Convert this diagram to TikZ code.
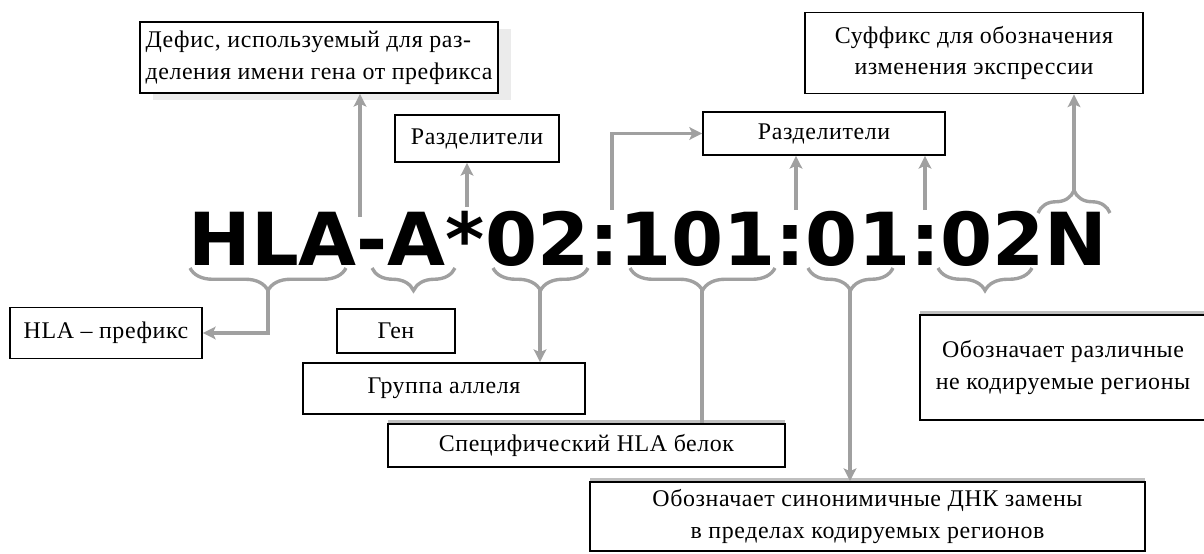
\documentclass[tikz,border=0pt]{standalone}
\usepackage{fontspec}
\setmainfont{Liberation Serif}[LetterSpace=2.5]
\newfontfamily\codefont{DejaVu Sans}
\usetikzlibrary{decorations.pathreplacing,arrows.meta,shadows}
\definecolor{linegray}{RGB}{160,160,160}
\tikzset{
  box/.style={draw, fill=white, line width=1.3pt, inner sep=1pt, align=center,
    font=\fontsize{17}{22.5}\selectfont},
  topshade/.style={general shadow={fill=black!25, shadow yshift=3pt}},
  sideshade/.style={general shadow={fill=black!8, shadow xshift=9pt, shadow yshift=-5pt}},
  arr/.style={-{Stealth[length=9pt,width=9pt,inset=2pt]}, draw=linegray, line width=2.4pt},
  lnk/.style={draw=linegray, line width=2.4pt},
  brc/.style={draw=linegray, line width=2.4pt, decorate,
    decoration={brace, amplitude=16pt}}
}

\begin{document}
\begin{tikzpicture}[x=0.025cm, y=-0.025cm]
      \useasboundingbox (0,0) rectangle (1204,553);
      % allele name
      \node [anchor=base west, inner sep=0] (code) at (188,265)
        {\scalebox{1.025}[1]{\codefont\bfseries\fontsize{52}{52}\selectfont HLA-A*02:101:01:02N}};
      % boxes
      \node [box, sideshade, align=left, minimum width=8.95cm, minimum height=1.775cm] (defis) at (319,57.5)
        {Дефис, используемый для раз-\\деления имени гена от префикса};
      \node [box, minimum width=4.1cm, minimum height=1.175cm] (sepl) at (477,138.5) {Разделители};
      \node [box, minimum width=6.05cm, minimum height=1.075cm] (sepr) at (824,133.5) {Разделители};
      \node [box, minimum width=8.45cm, minimum height=2.025cm] (suffix) at (974,53)
        {Суффикс для обозначения\\изменения экспрессии};
      \node [box, minimum width=4.8cm, minimum height=1.275cm] (prefix) at (106,333) {HLA – префикс};
      \node [box, minimum width=2.95cm, minimum height=1.1cm] (gene) at (396,331) {Ген};
      \node [box, minimum width=7.05cm, minimum height=1.275cm] (group) at (444,388.5) {Группа аллеля};
      \node [box, topshade, minimum width=9.925cm, minimum height=1.075cm] (protein) at (586.5,445.5)
        {Специфический HLA белок};
      \node [box, topshade, minimum width=13.875cm, minimum height=1.725cm] (syn) at (867.5,516.5)
        {Обозначает синонимичные ДНК замены\\в пределах кодируемых регионов};
      \node [box, topshade, minimum width=7.15cm, minimum height=2.625cm] (noncod) at (1063,367.5)
        {Обозначает различные\\не кодируемые регионы};
      % points on the name
      \coordinate (hyph) at (360,217);
      \coordinate (ast) at (467,207);
      \coordinate (col1) at (612,210);
      \coordinate (col2) at (796,210);
      \coordinate (col3) at (925,210);
      \coordinate (tipN) at (1074,190);
      \coordinate (tipHLA) at (268,290);
      \coordinate (tipG) at (540,290);
      \coordinate (tipP) at (702,290);
      \coordinate (tipS) at (850,290);
      % upper arrows
      \draw [arr] (hyph) -- (hyph |- defis.south);
      \draw [arr] (ast) -- (ast |- sepl.south);
      \draw [arr] (col1) |- (sepr.west);
      \draw [arr] (col2) -- (col2 |- sepr.south);
      \draw [arr] (col3) -- (col3 |- sepr.south);
      \draw [brc] (1038,213) -- (1110,213);
      \draw [arr] (tipN) -- (tipN |- suffix.south);
      % lower braces
      \draw [brc] (346,268) -- (190,268);
      \draw [brc] (455,268) -- (372,268);
      \draw [brc] (588,268) -- (493,268);
      \draw [brc] (775,268) -- (630,268);
      \draw [brc] (893,268) -- (808,268);
      \draw [brc] (1032,268) -- (938,268);
      \draw [arr] (tipHLA) |- (prefix.east);
      \draw [arr] (tipG) -- (tipG |- group.north);
      \draw [lnk] (tipP) -- (tipP |- protein.north);
      \draw [arr] (tipS) -- (tipS |- syn.north);
    \end{tikzpicture}
\end{document}
